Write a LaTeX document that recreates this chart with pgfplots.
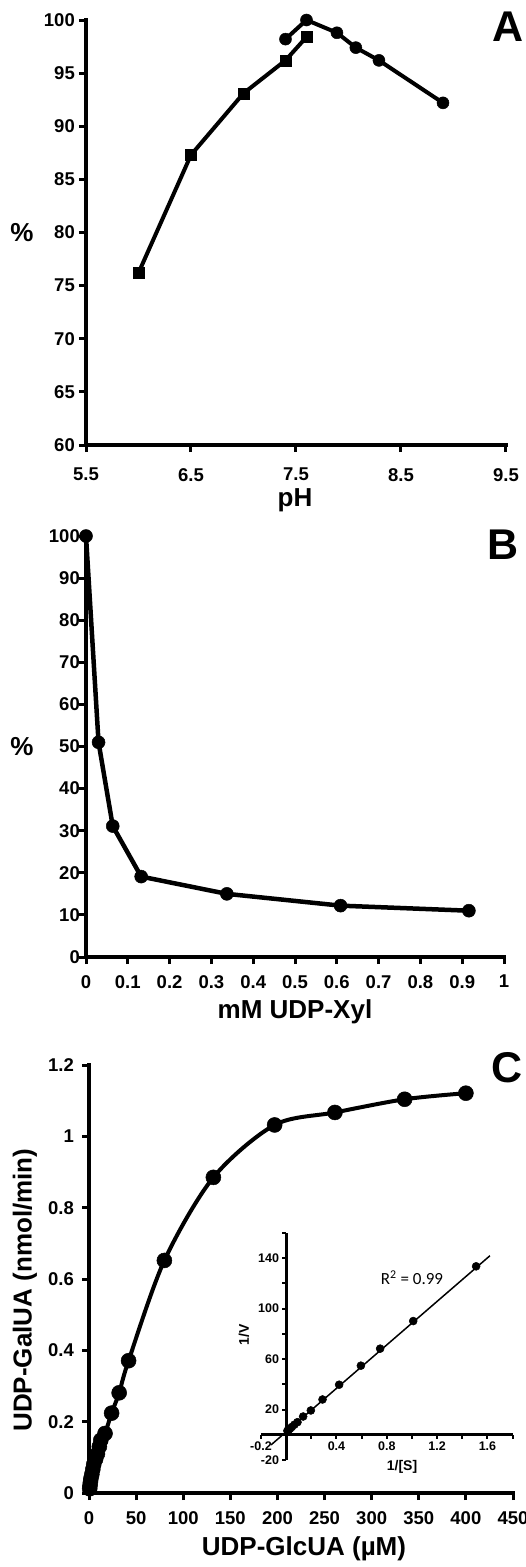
\documentclass[border=0pt]{standalone}
\usepackage{pgfplots}
\pgfplotsset{compat=1.18}
\usepackage{fontspec}
\setmainfont{Liberation Sans}
\newfontfamily\calibri{Carlito}

\newcommand\tickfont{\fontsize{18.5}{20}\selectfont\bfseries}
\newcommand\labfont{\fontsize{26}{28}\selectfont\bfseries}
\newcommand\insfont{\fontsize{12.5}{14}\selectfont\bfseries}
\newcommand\letfont{\fontsize{43}{45}\selectfont\bfseries}

\pgfplotsset{
  panel/.style={
    scale only axis, enlargelimits=false, clip=false,
    axis x line=bottom, axis y line=left,
    axis line style={-, line width=4.5pt},
    tick align=outside, major tick length=7pt,
    every tick/.append style={line width=3pt, black},
    every major tick/.append style={line width=3pt, black},
    ticklabel style={font=\tickfont, inner sep=0pt},
    yticklabel style={anchor=east},
    xticklabel style={anchor=north},
    /pgf/number format/assume math mode=true,
  },
}
% heavy L-shaped frame drawn over the axis lines
\newcommand\frameL{\draw[line width=4.5pt, line cap=rect, line join=miter]
  (rel axis cs:0,1) -- (rel axis cs:0,0) -- (rel axis cs:1,0);}

\begin{document}
\begin{tikzpicture}

% ---- A: pH profile
\begin{axis}[panel, at={(86pt,-445pt)}, anchor=south west,
  width=420pt, height=425pt,
  xmin=5.5, xmax=9.5, ymin=60, ymax=100,
  xtick={5.5,6.5,7.5,8.5,9.5}, xticklabels={5.5,6.5,7.5,8.5,9.5},
  ytick={60,65,70,75,80,85,90,95,100},
  yticklabels={60,65,70,75,80,85,90,95,100},
  yticklabel style={xshift=-4pt}, xticklabel style={yshift=-16pt}]
\frameL
\addplot[line width=4pt, mark=square*, mark size=5.5pt,
  mark options={line width=0.5pt}] coordinates {
  (6.0,76.2) (6.5,87.3) (7.0,93.1) (7.4,96.2) (7.6,98.4)};
\addplot[line width=4pt, mark=*, mark size=6pt,
  mark options={line width=0.5pt}] coordinates {
  (7.4,98.2) (7.6,100) (7.89,98.8) (8.07,97.4) (8.29,96.2) (8.9,92.2)};
\end{axis}

% ---- B: UDP-Xyl inhibition
\begin{axis}[panel, at={(86pt,-957pt)}, anchor=south west,
  width=418pt, height=421pt,
  xmin=0, xmax=1, ymin=0, ymax=100,
  xtick={0,0.1,0.2,0.3,0.4,0.5,0.6,0.7,0.8,0.9,1},
  xticklabels={0,0.1,0.2,0.3,0.4,0.5,0.6,0.7,0.8,0.9,1},
  ytick={0,10,20,30,40,50,60,70,80,90,100},
  yticklabels={0,10,20,30,40,50,60,70,80,90,100},
  yticklabel style={xshift=1pt}, xticklabel style={yshift=-11pt}]
\frameL
\addplot[line width=4.5pt, mark=*, mark size=6.5pt,
  mark options={line width=0.5pt}] coordinates {
  (0,100) (0.03,51) (0.064,31.1) (0.132,19.1) (0.337,15.0)
  (0.609,12.2) (0.916,11.0)};
\end{axis}

% ---- C: saturation curve
\begin{axis}[panel, at={(89pt,-1493pt)}, anchor=south west,
  width=424pt, height=428pt,
  xmin=0, xmax=450, ymin=0, ymax=1.2,
  xtick={0,50,100,150,200,250,300,350,400,450},
  xticklabels={0,50,100,150,200,250,300,350,400,450},
  ytick={0,0.2,0.4,0.6,0.8,1,1.2},
  yticklabels={0,0.2,0.4,0.6,0.8,1,1.2},
  yticklabel style={xshift=-8pt}, xticklabel style={yshift=-11.5pt}]
\frameL
\addplot[line width=4pt, smooth, mark=*, mark size=7.5pt,
  mark options={line width=0.5pt}] coordinates {
  (0.7,0.012) (1.0,0.02) (1.5,0.03) (2,0.04) (3,0.052) (4,0.066)
  (5,0.08) (7,0.095) (9,0.11) (11,0.13) (12.5,0.148) (17,0.167)
  (24,0.224) (32,0.281) (42,0.371) (80,0.652) (132,0.885)
  (197,1.032) (261,1.067) (335,1.104) (400,1.121)};
\end{axis}

% ---- C inset: double reciprocal
\begin{axis}[scale only axis, enlargelimits=false, clip=false,
  at={(261pt,-1460pt)}, anchor=south west,
  width=251.6pt, height=227pt,
  xmin=-0.2, xmax=1.8, ymin=-20, ymax=160,
  axis lines=middle,
  axis line style={-, line width=3pt},
  tick align=outside, major tick length=4pt, minor tick length=4pt,
  every tick/.append style={line width=2pt, black},
  every major tick/.append style={line width=2pt, black},
  every minor tick/.append style={line width=2pt, black},
  xtick={-0.2,0.4,0.8,1.2,1.6}, xticklabels={-0.2,0.4,0.8,1.2,1.6},
  minor xtick={0,0.2,0.6,1.0,1.4,1.8},
  ytick={-20,20,60,100,140}, yticklabels={-20,20,60,100,140},
  minor ytick={0,40,80,120,160},
  ticklabel style={font=\insfont, inner sep=0pt},
  yticklabel style={anchor=east, xshift=-3pt},
  xticklabel style={anchor=north, yshift=-3pt}]
\draw[line width=3pt] (axis cs:0,-20) -- (axis cs:0,160);
\draw[line width=3pt] (axis cs:-0.2,0) -- (axis cs:1.8,0);
\addplot[line width=1.5pt, no marks] coordinates {(-0.12,-8) (1.62,142)};
\addplot[only marks, mark=*, mark size=4pt, mark options={line width=0.5pt}]
  coordinates {
  (1.51,133.6) (1.01,90.2) (0.747,68.3) (0.594,54.8) (0.421,39.7)
  (0.289,28) (0.196,19.3) (0.135,14.5) (0.09,10) (0.065,8)
  (0.045,6.2) (0.03,4.8) (0.02,4) (0.01,3.2)};
\end{axis}

% ---- labels
\node[font=\labfont] at (22pt,-233pt) {\%};
\node[font=\labfont] at (295pt,-500pt) {pH};
\node[font=\labfont] at (22pt,-747pt) {\%};
\node[font=\labfont] at (295pt,-1012pt) {mM UDP-Xyl};
\node[font=\labfont, rotate=90] at (25pt,-1290pt) {UDP-GalUA (nmol/min)};
\node[font=\labfont] at (304pt,-1549pt) {UDP-GlcUA (\textmu M)};
\node[font=\fontsize{14}{16}\selectfont\bfseries, rotate=90] at (244pt,-1335pt) {1/V};
\node[font=\fontsize{14}{16}\selectfont\bfseries] at (402pt,-1467pt) {1/[S]};
\node[font=\calibri\fontsize{17}{19}\selectfont] at (412pt,-1278pt) {R\textsuperscript{2} = 0.99};
\node[font=\letfont] at (508pt,-27pt) {A};
\node[font=\letfont] at (503pt,-545pt) {B};
\node[font=\letfont] at (507pt,-1068pt) {C};

\pgfresetboundingbox
\path[use as bounding box] (0pt,0pt) rectangle (526pt,-1567pt);
\end{tikzpicture}
\end{document}
